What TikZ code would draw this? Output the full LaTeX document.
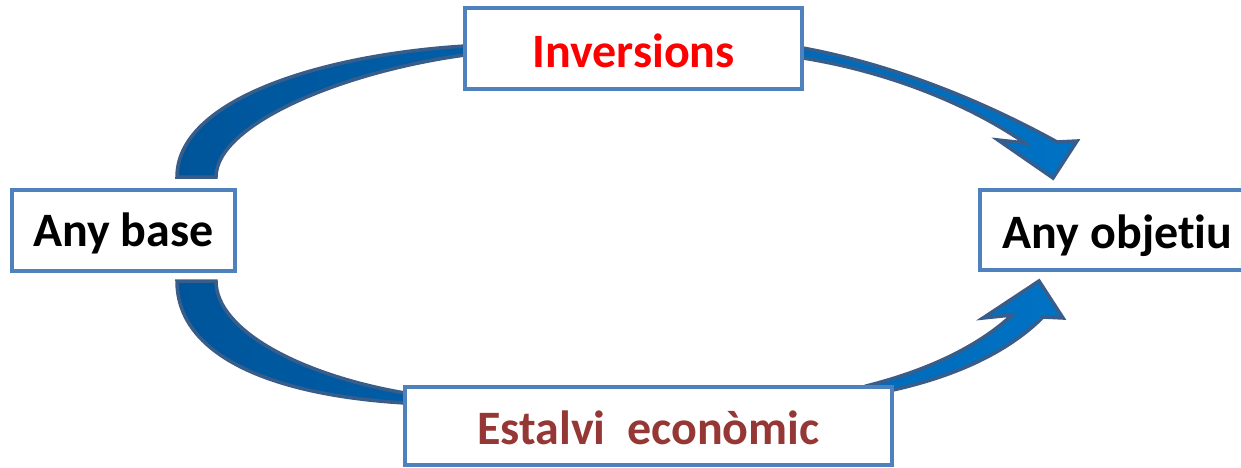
\documentclass[tikz,border=0pt]{standalone}
\usepackage{fontspec}
\setmainfont{Carlito}[Ligatures=NoCommon]
\definecolor{boxblue}{HTML}{4F81BD}
\definecolor{arrowline}{HTML}{385D8A}
\definecolor{arrowdark}{HTML}{00559A}
\definecolor{arrowlight}{HTML}{0072C4}
\definecolor{savered}{HTML}{953735}
\begin{document}
\begin{tikzpicture}[x=1pt,y=-1pt,
  box/.style={draw=boxblue, line width=4pt, fill=white, inner sep=0pt,
    font=\fontsize{48}{52}\selectfont\bfseries},
  band/.style={draw=arrowline, line width=3.5pt, line join=miter,
    left color=arrowdark, right color=arrowlight}]
\useasboundingbox (0,0) rectangle (1241,467);
% upper curved arrow
\path[band] (177,177) .. controls (177,100) and (320,55) .. (465,46)
  -- (803,48) .. controls (900,66) and (990,105) .. (1057,142)
  -- (1077,141) -- (1053,178) -- (998,140) -- (1025,143)
  .. controls (970,105) and (890,72) .. (803,58)
  -- (465,55) .. controls (340,72) and (216,125) .. (216,177) -- cycle;
% lower curved arrow
\path[band] (177,281) .. controls (177,355) and (270,395) .. (405,403)
  -- (893,390) .. controls (960,375) and (1010,350) .. (1043,317)
  -- (1063,318) -- (1039,281) -- (983,318) -- (1012,315)
  .. controls (980,345) and (930,370) .. (866,386)
  -- (850,393) -- (405,393) .. controls (300,375) and (216,330) .. (216,281) -- cycle;
% boxes
\node[box, minimum width=337pt, minimum height=81pt, text height=44pt, text depth=7pt]
  (inv) at (633.5,48.5) {\textcolor{red}{Inversions}};
\node[box, minimum width=223pt, minimum height=81pt, text height=40pt, text depth=9pt]
  (base) at (123.5,230.5) {Any base};
\node[box, minimum width=275pt, minimum height=80pt, text height=43pt, text depth=7pt]
  (obj) at (1117.5,230) {Any objetiu};
\node[box, minimum width=487pt, minimum height=78pt, text height=43pt, text depth=7pt]
  (est) at (648.5,426) {\textcolor{savered}{Estalvi\ \ econòmic}};
\end{tikzpicture}
\end{document}
